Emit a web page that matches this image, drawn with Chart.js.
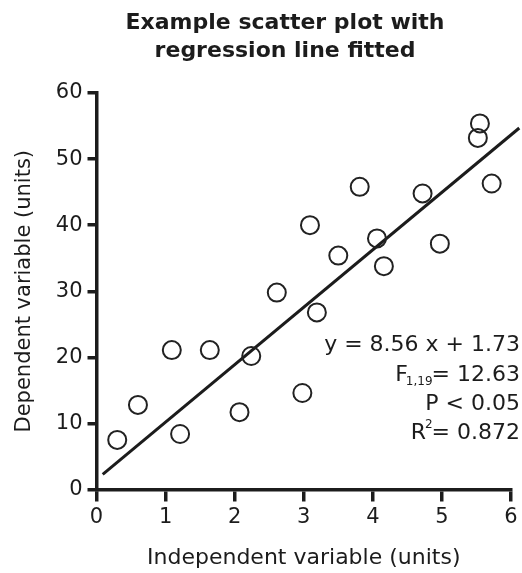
<!DOCTYPE html>
<html><head><meta charset="utf-8">
<script src="https://cdn.jsdelivr.net/npm/chart.js@4/dist/chart.umd.min.js"></script>
<style>html,body{margin:0;padding:0;background:#fff}</style>
</head><body>
<canvas id="c" width="522" height="573"></canvas>
<script>
// ---- data ----
const titleLines = ["Example scatter plot with", "regression line fitted"];
const xLabel = "Independent variable (units)";
const yLabel = "Dependent variable (units)";
const xValues = [0.30, 0.60, 1.09, 1.21, 1.64, 2.07, 2.24, 2.61, 2.98, 3.09, 3.19, 3.50, 3.81, 4.06, 4.16, 4.72, 4.97, 5.52, 5.55, 5.72];
const yValues = [7.5, 12.8, 21.1, 8.4, 21.1, 11.7, 20.2, 29.8, 14.6, 40.0, 26.8, 35.4, 45.8, 38.0, 33.8, 44.8, 37.2, 53.2, 55.4, 46.3];
const fitX = [0.09, 6.12];
const fitY = [2.3, 54.7];
const xTicks = [0, 1, 2, 3, 4, 5, 6];
const yTicks = [0, 10, 20, 30, 40, 50, 60];
const eqText = "y = 8.56 x + 1.73";
const fMain = "F", fSub = "1,19", fValue = "= 12.63";
const pText = "P < 0.05";
const rMain = "R", rSup = "2", rValue = "= 0.872";

const FONT = '"DejaVu Sans", Verdana, sans-serif';
const INK = '#1c1c1c';

const textPlugin = {
  id: 'texts',
  afterDraw(chart) {
    const ctx = chart.ctx;
    ctx.save();
    ctx.fillStyle = INK;
    ctx.textBaseline = 'middle';
    // title
    ctx.textAlign = 'center';
    ctx.font = 'bold 22px ' + FONT;
    titleLines.forEach((t, i) => ctx.fillText(t, 285, 23 + i * 28));
    // stats
    const R = chart.width - 2;
    ctx.textAlign = 'right';
    ctx.font = '22px ' + FONT;
    ctx.fillText(eqText, R, 345);
    // F line
    let w = ctx.measureText(fValue).width;
    ctx.fillText(fValue, R, 375);
    ctx.font = '12px ' + FONT;
    const ws = ctx.measureText(fSub).width;
    const subRight = R - w + 1;
    ctx.fillText(fSub, subRight, 382);
    ctx.font = '22px ' + FONT;
    ctx.fillText(fMain, subRight - ws + 2, 375);
    // P line
    ctx.fillText(pText, R, 404);
    // R line
    w = ctx.measureText(rValue).width;
    ctx.fillText(rValue, R, 433);
    ctx.font = '12px ' + FONT;
    const wsup = ctx.measureText(rSup).width;
    ctx.fillText(rSup, R - w + 1, 425);
    ctx.font = '22px ' + FONT;
    ctx.fillText(rMain, R - w - wsup + 2, 433);
    ctx.restore();
  }
};

const axisCommon = (tickLen) => ({
  type: 'linear',
  grid: { display: true, drawOnChartArea: false, drawTicks: true, tickLength: tickLen, tickWidth: 3.5, tickColor: INK, lineWidth: 3.5, color: INK },
  border: { display: true, width: 3.5, color: INK },
  ticks: { color: INK, font: { family: FONT, size: 21 }, maxRotation: 0 }
});

const xAxis = axisCommon(12);
Object.assign(xAxis, {
  min: 0, max: 6,
  afterBuildTicks: s => { s.ticks = xTicks.map(v => ({ value: v })); },
  afterFit: s => { s.height = 83.5; },
  title: { display: true, text: xLabel, color: INK, font: { family: FONT, size: 22 }, padding: { top: 0, bottom: 2 } }
});
xAxis.ticks.padding = 3;

const yAxis = axisCommon(9);
Object.assign(yAxis, {
  min: 0, max: 60,
  afterBuildTicks: s => { s.ticks = yTicks.map(v => ({ value: v })); },
  afterFit: s => { s.width = 96.5; },
  title: { display: true, text: yLabel, color: INK, font: { family: FONT, size: 21 }, padding: { top: 12, bottom: 0 } }
});
yAxis.ticks.padding = 5;

new Chart(document.getElementById('c'), {
  type: 'scatter',
  data: {
    datasets: [
      {
        data: xValues.map((x, i) => ({ x, y: yValues[i] })),
        pointRadius: 9, pointHoverRadius: 9, borderWidth: 2,
        borderColor: '#222', backgroundColor: 'rgba(0,0,0,0)', pointStyle: 'circle', showLine: false
      },
      {
        data: fitX.map((x, i) => ({ x, y: fitY[i] })),
        showLine: true, borderColor: INK, borderWidth: 3, pointRadius: 0, fill: false, clip: false
      }
    ]
  },
  options: {
    responsive: false, animation: false, devicePixelRatio: 1,
    layout: { padding: { top: 93, right: 8, bottom: 0, left: 0 } },
    plugins: { legend: { display: false }, title: { display: false }, tooltip: { enabled: false } },
    scales: { x: xAxis, y: yAxis }
  },
  plugins: [textPlugin]
});
</script>
</body></html>
